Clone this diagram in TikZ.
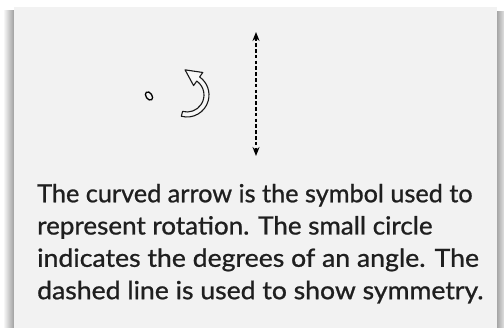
\documentclass[tikz,border=0pt]{standalone}
\usepackage{fontspec}
\setmainfont{Lato}
\usetikzlibrary{arrows.meta,calc}
\begin{document}
\begin{tikzpicture}[x=1pt,y=-1pt,
  txt/.style={anchor=base west,inner sep=0pt,font=\fontsize{25}{32}\selectfont\addfontfeature{FakeBold=0.9},text=black!88},
  symline/.style={line width=1.6pt,dash pattern=on 3.5pt off 2.3pt,{Stealth[length=9pt,width=7pt]}-{Stealth[length=9pt,width=7pt]}},
  outline/.style={draw=black!90,line width=1.1pt,fill=black!3,line join=round}]
\useasboundingbox (0,0) rectangle (504,328);
\fill[white] (0,0) rectangle (504,328);
\shade[left color=white,right color=black!38] (3,11) rectangle (14,328);
\shade[left color=black!35,right color=black!12] (497,12) rectangle (504,328);
\fill[black!5] (14,7) rectangle (497,328);
% degree circle
\coordinate (deg) at (149,96);
\draw[line width=1.3pt,rotate around={35:(deg)}] (deg) ellipse [x radius=3,y radius=4.6];
% rotation arrow
\coordinate (C) at (187,95);
\draw[outline] ($(C)+(105:22)$) arc[start angle=105,end angle=-55,radius=22]
  -- ($(C)+(-55:27.5)$) -- ($(C)+(-55:19.5)+(-145:16)$) -- ($(C)+(-55:11.5)$)
  -- ($(C)+(-55:17)$) arc[start angle=-55,end angle=105,radius=17] -- cycle;
% symmetry line
\coordinate (st) at (256,32);
\coordinate (sb) at (256,156);
\draw[symline] (st) -- (sb);
% text
\node[txt] (l1) at (37,202.3) {\scalebox{1.01}[1]{The curved arrow is the symbol used to}};
\node[txt] (l2) at (37,234.5) {\scalebox{1.04}[1]{represent rotation. The small circle}};
\node[txt] (l3) at (37,266.8) {\scalebox{1.065}[1]{indicates the degrees of an angle. The}};
\node[txt] (l4) at (37,299.2) {\scalebox{1.063}[1]{dashed line is used to show symmetry.}};
\end{tikzpicture}
\end{document}
